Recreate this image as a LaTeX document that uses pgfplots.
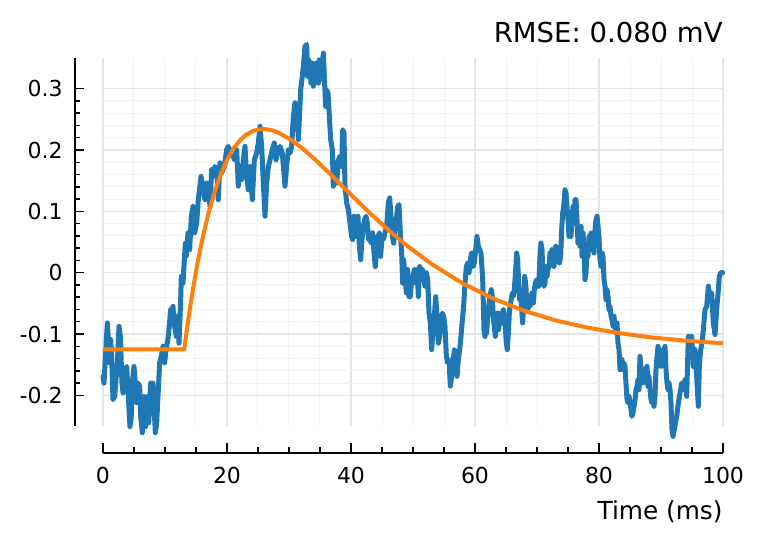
\documentclass[border=0pt]{standalone}
\usepackage{fontspec}
\setmainfont{DejaVu Sans}
\usepackage{pgfplots}
\pgfplotsset{compat=1.18}
\definecolor{tabblue}{RGB}{31,119,180}
\definecolor{taborange}{RGB}{255,127,14}
\begin{document}
\begin{tikzpicture}
\begin{axis}[
  scale only axis, width=310pt, height=184pt,
  xmin=0, xmax=100, ymin=-0.25, ymax=0.35,
  enlargelimits=false, clip=false,
  axis lines=left,
  axis line style={-, line width=1pt, black},
  axis x line shift=13.5pt, axis y line shift=14pt,
  xtick={0,20,40,60,80,100}, xticklabels={0,20,40,60,80,100},
  ytick={-0.2,-0.1,0,0.1,0.2,0.3}, yticklabels={-0.2,-0.1,0,0.1,0.2,0.3},
  minor x tick num=3, minor y tick num=4,
  tick align=inside,
  major tick length=4.75pt, minor tick length=2.75pt,
  every tick/.style={black, line width=0.75pt},
  grid=both,
  major grid style={black!10, line width=0.55pt},
  minor grid style={black!5, line width=0.5pt},
  tick label style={font=\fontsize{11}{13}\selectfont},
  xticklabel style={inner sep=0pt, yshift=-7pt},
  yticklabel style={inner sep=0pt, xshift=-6pt},
  xlabel={Time (ms)},
  xlabel style={at={(axis description cs:1,0)}, anchor=base east, yshift=-46.5pt, inner sep=0pt, font=\fontsize{12.4}{14}\selectfont},
  title={RMSE: 0.080 mV},
  title style={at={(axis description cs:1,1)}, anchor=base east, yshift=2pt, inner sep=0pt, font=\fontsize{13.75}{16}\selectfont},
]
\addplot[tabblue, line width=2.5pt, line join=round, line cap=round] coordinates {
(0.0,-0.169) (0.16,-0.180) (0.70,-0.082) (1.08,-0.147) (1.24,-0.109) (1.45,-0.153) (1.61,-0.207) (1.88,-0.202)
(2.31,-0.147) (2.58,-0.0875) (2.80,-0.104) (3.06,-0.180) (3.23,-0.196) (3.60,-0.158) (3.82,-0.153) (4.03,-0.191)
(4.35,-0.251) (4.57,-0.234) (4.73,-0.180) (5.00,-0.153) (5.22,-0.180) (5.43,-0.212) (5.65,-0.180) (5.91,-0.185)
(6.08,-0.234) (6.34,-0.261) (6.61,-0.202) (6.88,-0.251) (7.15,-0.202) (7.37,-0.245) (7.69,-0.180) (7.90,-0.212)
(8.06,-0.180) (8.44,-0.261) (8.66,-0.245) (8.87,-0.202) (9.14,-0.147) (9.41,-0.136) (9.68,-0.120) (9.95,-0.147)
(10.22,-0.120) (10.38,-0.115) (10.59,-0.098) (10.91,-0.060) (11.13,-0.077) (11.29,-0.055) (11.45,-0.082) (11.83,-0.104)
(11.99,-0.071) (12.26,-0.115) (12.53,-0.044) (12.63,-0.006) (12.90,-0.017) (13.28,0.048) (13.44,0.027) (13.71,0.065)
(13.98,0.0375) (14.25,0.092) (14.52,0.108) (14.78,0.065) (15.11,0.081) (15.38,0.119) (15.81,0.157) (16.18,0.135)
(16.45,0.119) (16.72,0.146) (16.99,0.135) (17.26,0.108) (17.53,0.168) (17.80,0.157) (18.06,0.173) (18.33,0.168)
(18.60,0.119) (18.87,0.179) (19.14,0.163) (19.57,0.173) (19.95,0.2005) (20.22,0.206) (20.48,0.190) (20.75,0.2005)
(21.18,0.184) (21.56,0.2005) (21.83,0.141) (22.10,0.173) (22.37,0.152) (22.63,0.184) (22.90,0.206) (23.17,0.157)
(23.44,0.135) (23.71,0.173) (24.09,0.119) (24.41,0.184) (24.78,0.195) (25.05,0.2115) (25.32,0.2385) (25.59,0.206)
(25.86,0.146) (26.13,0.092) (26.40,0.146) (26.67,0.173) (26.94,0.184) (27.31,0.2005) (27.63,0.2115) (27.90,0.184)
(28.28,0.2005) (28.55,0.206) (28.92,0.195) (29.35,0.141) (29.62,0.173) (29.89,0.2005) (30.16,0.195) (30.43,0.206)
(30.70,0.255) (30.97,0.277) (31.13,0.2385) (31.24,0.271) (31.51,0.217) (31.67,0.2495) (31.88,0.298) (32.15,0.320)
(32.31,0.336) (32.58,0.369) (32.85,0.372) (33.01,0.320) (33.17,0.347) (33.39,0.331) (33.55,0.309) (33.71,0.342)
(33.92,0.304) (34.09,0.336) (34.30,0.320) (34.46,0.342) (34.73,0.309) (34.89,0.347) (35.11,0.315) (35.32,0.336)
(35.54,0.358) (35.75,0.309) (35.91,0.271) (36.08,0.298) (36.29,0.293) (36.51,0.255) (36.72,0.217) (36.99,0.2005)
(37.15,0.141) (37.37,0.157) (37.53,0.179) (37.69,0.146) (37.96,0.184) (38.23,0.190) (38.49,0.173) (38.66,0.233)
(38.87,0.228) (39.03,0.141) (39.30,0.1135) (39.57,0.103) (39.84,0.081) (40.11,0.059) (40.27,0.054) (40.48,0.092)
(40.70,0.0755) (40.91,0.059) (41.13,0.092) (41.34,0.043) (41.56,0.021) (41.77,0.054) (41.99,0.0755) (42.20,0.0865)
(42.42,0.092) (42.63,0.081) (42.85,0.054) (43.06,0.054) (43.28,0.048) (43.49,0.065) (43.71,0.032) (43.92,0.010)
(44.14,0.043) (44.35,0.059) (44.57,0.065) (44.78,0.0265) (45.00,0.059) (45.21,0.054) (45.48,0.065) (45.75,0.0755)
(46.02,0.1135) (46.24,0.122) (46.45,0.092) (46.67,0.059) (46.88,0.048) (47.10,0.070) (47.37,0.092) (47.53,0.108)
(47.74,0.111) (47.96,0.065) (48.17,0.032) (48.33,-0.017) (48.49,0.021) (48.71,-0.006) (48.92,-0.033) (49.14,0.005)
(49.35,-0.039) (49.57,-0.039) (49.78,-0.011) (50.00,-0.006) (50.22,0.005) (50.43,-0.017) (50.65,0.005) (50.86,-0.039)
(51.08,0.010) (51.29,-0.006) (51.51,0.005) (51.72,-0.006) (51.94,-0.022) (52.15,0.000) (52.37,-0.011) (52.58,-0.066)
(52.80,-0.082) (53.01,-0.1255) (53.23,-0.093) (53.44,-0.071) (53.66,-0.039) (53.87,-0.071) (54.09,-0.115) (54.30,-0.104)
(54.52,-0.082) (54.73,-0.066) (54.95,-0.071) (55.16,-0.0875) (55.38,-0.136) (55.59,-0.147) (55.81,-0.142) (56.02,-0.185)
(56.24,-0.169) (56.45,-0.147) (56.67,-0.1255) (56.88,-0.131) (57.10,-0.169) (57.31,-0.142) (57.53,-0.1255) (57.74,-0.104)
(57.96,-0.077) (58.17,-0.055) (58.39,-0.017) (58.60,0.010) (58.82,0.016) (59.03,0.000) (59.25,0.021) (59.46,0.032)
(59.68,0.010) (59.89,0.016) (60.11,0.0375) (60.32,0.059) (60.54,0.043) (60.97,0.032) (61.24,-0.011) (61.34,-0.049)
(61.45,-0.093) (61.61,-0.104) (61.77,-0.0875) (61.88,-0.0983) (62.04,-0.071) (62.20,-0.055) (62.42,-0.0386) (62.63,-0.0277)
(62.80,-0.0386) (62.96,-0.0766) (63.12,-0.0875) (63.28,-0.1038) (63.49,-0.082) (63.66,-0.0658) (63.82,-0.0929) (64.03,-0.071)
(64.19,-0.0658) (64.35,-0.082) (64.57,-0.0603) (64.73,-0.071) (64.89,-0.0875) (65.05,-0.1147) (65.21,-0.1256) (65.38,-0.0983)
(65.54,-0.0658) (65.70,-0.0495) (65.86,-0.044) (66.02,-0.0332) (66.18,-0.0386) (66.34,-0.0277) (66.56,0.005) (66.72,0.032)
(66.88,0.0212) (67.04,-0.0169) (67.20,-0.044) (67.36,-0.0332) (67.53,-0.0603) (67.69,-0.082) (67.85,-0.0495) (68.01,-0.006)
(68.17,-0.0169) (68.33,-0.044) (68.49,-0.0603) (68.66,-0.0495) (68.87,-0.055) (69.03,-0.044) (69.19,-0.0332) (69.41,-0.0495)
(69.57,-0.0277) (69.73,-0.0169) (69.95,-0.0114) (70.11,-0.0169) (70.27,-0.0223) (70.48,0.0267) (70.64,0.0484) (70.81,0.0375)
(70.97,-0.0114) (71.13,-0.0223) (71.29,-0.0169) (71.45,0.0103) (71.61,-0.006) (71.77,0.005) (71.94,0.0103) (72.10,0.032)
(72.26,0.0158) (72.42,0.0375) (72.58,0.032) (72.74,0.0103) (72.90,0.0375) (73.06,0.043) (73.23,0.0267) (73.39,0.032)
(73.60,0.0158) (73.82,0.0267) (73.98,0.070) (74.14,0.097) (74.30,0.108) (74.52,0.135) (74.68,0.130) (74.84,0.108)
(75.00,0.0864) (75.16,0.059) (75.32,0.097) (75.48,0.059) (75.64,0.0864) (75.81,0.108) (75.97,0.081) (76.13,0.119)
(76.29,0.119) (76.45,0.0864) (76.61,0.0484) (76.77,0.070) (76.94,0.043) (77.10,0.0755) (77.26,0.0267) (77.42,0.0646)
(77.58,0.0375) (77.74,-0.0114) (77.90,-0.0006) (78.07,0.032) (78.23,0.0267) (78.39,0.059) (78.55,0.043) (78.71,0.0646)
(78.87,0.0375) (79.03,0.0538) (79.19,0.032) (79.36,0.070) (79.52,0.0864) (79.68,0.092) (79.84,0.0755) (80.00,0.059)
(80.16,0.0212) (80.32,0.0103) (80.48,0.032) (80.65,0.0267) (80.81,-0.0114) (80.97,-0.0223) (81.13,-0.044) (81.29,-0.0277)
(81.45,-0.0386) (81.61,-0.0603) (81.77,-0.055) (81.94,-0.071) (82.10,-0.0766) (82.26,-0.0875) (82.42,-0.071) (82.58,-0.0875)
(82.74,-0.0983) (82.90,-0.082) (83.06,-0.1147) (83.23,-0.1256) (83.39,-0.1582) (83.55,-0.1473) (83.71,-0.1419) (83.87,-0.1582)
(84.03,-0.1473) (84.19,-0.1527) (84.35,-0.1799) (84.52,-0.2071) (84.68,-0.2125) (84.84,-0.2016) (85.00,-0.2125) (85.16,-0.2234)
(85.32,-0.2342) (85.48,-0.2288) (85.65,-0.2179) (85.81,-0.2071) (85.97,-0.1908) (86.13,-0.1853) (86.29,-0.1745) (86.45,-0.1908)
(86.61,-0.1364) (86.77,-0.1527) (86.94,-0.1799) (87.10,-0.169) (87.26,-0.1582) (87.42,-0.1745) (87.58,-0.1799) (87.74,-0.1527)
(87.90,-0.1853) (88.06,-0.169) (88.23,-0.1908) (88.39,-0.2071) (88.55,-0.2125) (88.71,-0.2071) (88.87,-0.2179) (89.03,-0.2016)
(89.19,-0.1582) (89.36,-0.1364) (89.52,-0.1201) (89.68,-0.131) (89.84,-0.1473) (90.00,-0.1527) (90.16,-0.1364) (90.32,-0.1256)
(90.48,-0.1256) (90.65,-0.1201) (90.81,-0.1582) (90.97,-0.1799) (91.13,-0.1908) (91.29,-0.1799) (91.45,-0.1908) (91.61,-0.2125)
(91.77,-0.256) (91.94,-0.2669) (92.53,-0.234) (92.80,-0.2125) (93.07,-0.196) (93.33,-0.180) (93.60,-0.191) (93.87,-0.1745)
(94.14,-0.2016) (94.41,-0.104) (94.68,-0.1255) (94.95,-0.104) (95.22,-0.153) (95.48,-0.1255) (95.75,-0.169) (96.02,-0.218)
(96.18,-0.153) (96.40,-0.1255) (96.61,-0.115) (96.83,-0.093) (97.10,-0.060) (97.37,-0.055) (97.64,-0.022) (97.90,-0.039)
(98.17,-0.033) (98.44,-0.082) (98.71,-0.101) (98.98,-0.060) (99.25,-0.028) (99.41,-0.006) (99.62,0.000) (99.95,0.000)
};
\addplot[taborange, line width=2pt, line join=round] coordinates {
(0,-0.125) (13.1,-0.125) (13.6,-0.0876) (14.1,-0.0533) (14.6,-0.0218) (15.1,0.0072) (15.6,0.0338) (16.1,0.0582)
(17.1,0.1004) (18.1,0.1352) (19.1,0.1632) (20.1,0.1857) (21.1,0.2030) (22.1,0.2158) (23.1,0.2249) (24.1,0.2306)
(25.1,0.2335) (26.1,0.2341) (27.1,0.2326) (28.1,0.2292) (30.1,0.2182) (32.1,0.2032) (34.1,0.1855) (36.1,0.1662)
(38.1,0.1463) (40.1,0.1262) (43.1,0.0966) (46.1,0.0688) (49.1,0.0434) (53.1,0.0135) (58.1,-0.0180) (63.1,-0.0430)
(68.1,-0.0627) (73.1,-0.0781) (78.1,-0.0895) (83.1,-0.0984) (88.1,-0.1052) (93.1,-0.1102) (100,-0.1152)
};
\coordinate (bbll) at (rel axis cs:-0.16613,-0.31793);
\coordinate (bbur) at (rel axis cs:1.06613,1.15761);
\end{axis}
\pgfresetboundingbox
\useasboundingbox (bbll) rectangle (bbur);
\end{tikzpicture}
\end{document}
